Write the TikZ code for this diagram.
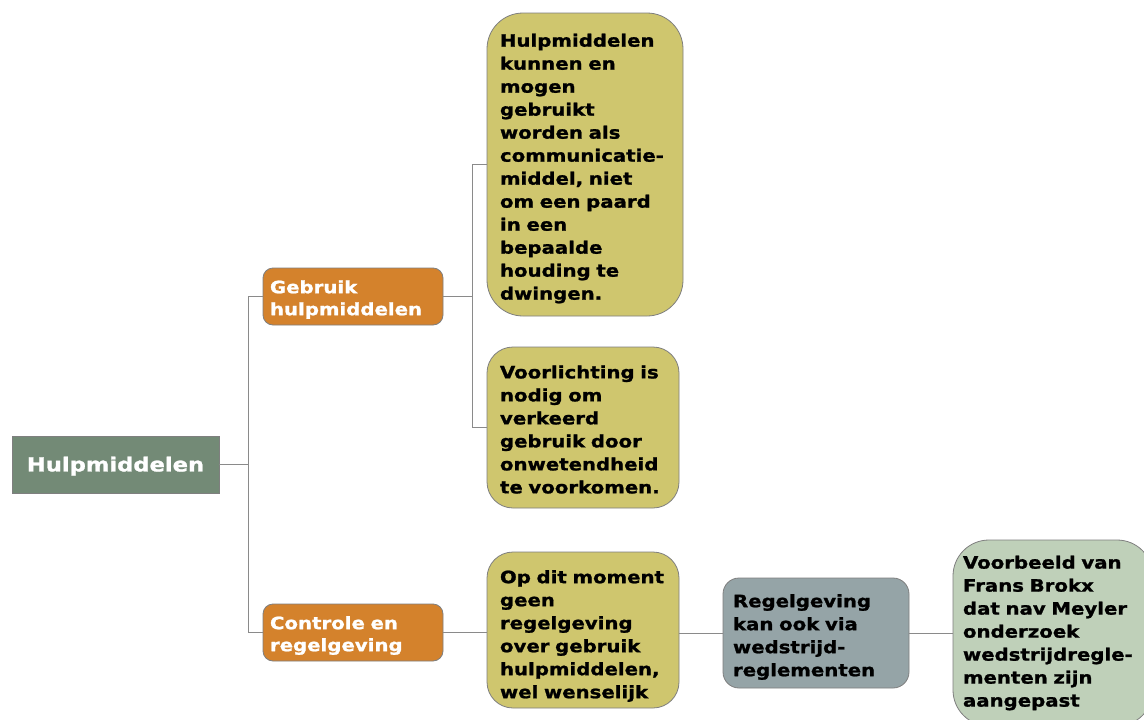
\documentclass[tikz,border=0pt]{standalone}
\usepackage{fontspec}
\setmainfont{DejaVu Sans}[FakeStretch=1.16, BoldFeatures={FakeBold=1.3}]
\definecolor{rootc}{HTML}{738A76}
\definecolor{orangec}{HTML}{D4822C}
\definecolor{olivec}{HTML}{CFC66E}
\definecolor{grayc}{HTML}{95A4A7}
\definecolor{greenc}{HTML}{BFD0B9}
\definecolor{linec}{HTML}{8A8A8A}
\definecolor{borderc}{HTML}{7F7F7F}
\newcommand{\topgap}[1]{\rule{0pt}{#1pt}}
\tikzset{
  base/.style={draw=borderc, line width=0.8pt, inner xsep=0pt, inner ysep=0pt, align=left, font=\bfseries\fontsize{17}{23}\selectfont},
  rootbox/.style={base, fill=rootc, text=white, align=center, font=\bfseries\fontsize{19.5}{24}\selectfont},
  orangebox/.style={base, fill=orangec, text=white, rounded corners=10pt, font=\bfseries\fontsize{17}{22}\selectfont},
  olivebox/.style={base, fill=olivec, text=black},
  graybox/.style={base, fill=grayc, text=black, rounded corners=16pt},
  greenbox/.style={base, fill=greenc, text=black, rounded corners=36pt},
  conn/.style={draw=linec, line width=0.9pt},
}
\begin{document}
\begin{tikzpicture}[x=1pt,y=-1pt]
\useasboundingbox (0,0) rectangle (1144,720);
\clip (0,0) rectangle (1144,720);
\fill[white] (0,0) rectangle (1144,720);

\node[rootbox, minimum width=207, minimum height=57] (root) at (115.5,464.5) {\topgap{18}Hulpmiddelen};

\node[orangebox, minimum width=180, minimum height=57, text width=166] (geb) at (353,296.5) {\topgap{19}Gebruik\\hulpmiddelen};
\node[orangebox, minimum width=180, minimum height=57, text width=166] (con) at (353,632.5) {\topgap{19}Controle en\\regelgeving};

\node[olivebox, rounded corners=36pt, minimum width=196, minimum height=303, text width=170] (b1) at (585,164.5) {\topgap{21}Hulpmiddelen\\kunnen en\\mogen\\gebruikt\\worden als\\communicatie-\\middel, niet\\om een paard\\in een\\bepaalde\\houding te\\dwingen.};

\node[olivebox, rounded corners=26pt, minimum width=192, minimum height=161, text width=166] (b2) at (583,427.5) {\topgap{17}Voorlichting is\\nodig om\\verkeerd\\gebruik door\\onwetendheid\\te voorkomen.};

\node[olivebox, rounded corners=26pt, minimum width=192, minimum height=156, text width=166] (b3) at (583,630) {\topgap{25}Op dit moment\\geen\\regelgeving\\over gebruik\\hulpmiddelen,\\wel wenselijk};

\node[graybox, minimum width=186, minimum height=110, text width=166] (b4) at (816,633) {\topgap{21}Regelgeving\\kan ook via\\wedstrijd-\\reglementen};

\node[greenbox, minimum width=200, minimum height=186, text width=180] (b5) at (1053,633) {Voorbeeld van\\Frans Brokx\\dat nav Meyler\\onderzoek\\wedstrijdregle-\\menten zijn\\aangepast};

\coordinate (j1) at (248,464.5);
\coordinate (j2) at (472,296.5);
\draw[conn] (root.east) -- (j1);
\draw[conn] (j1) |- (geb.west);
\draw[conn] (j1) |- (con.west);
\draw[conn] (geb.east) -- (j2);
\draw[conn] (j2) |- (b1.west);
\draw[conn] (j2) |- (b2.west);
\draw[conn] (con.east) -- (con.east -| b3.west);
\draw[conn] (b3.east |- b4.west) -- (b4.west);
\draw[conn] (b4.east) -- (b4.east -| b5.west);
\end{tikzpicture}
\end{document}
